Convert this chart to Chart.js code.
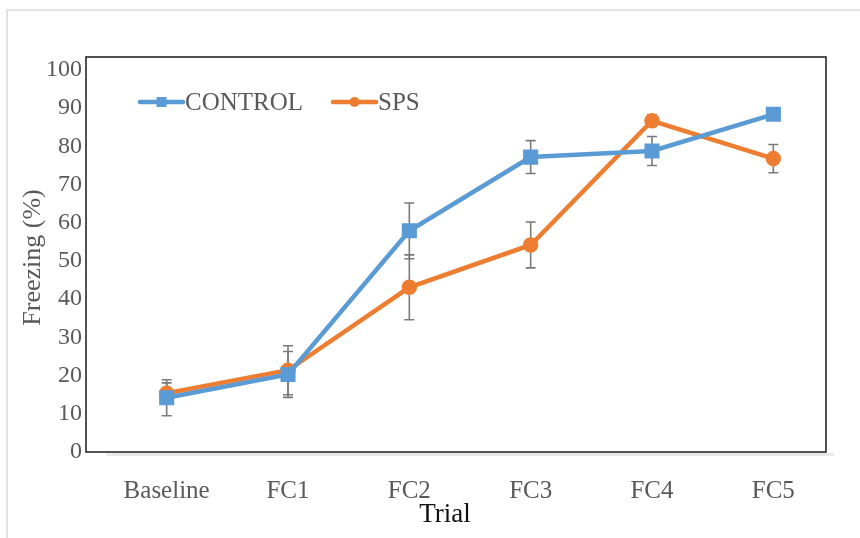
<!DOCTYPE html>
<html>
<head>
<meta charset="utf-8">
<script src="https://cdn.jsdelivr.net/npm/chart.js@4"></script>
<style>
  html, body { margin: 0; padding: 0; background: #ffffff; }
  #wrap { position: relative; width: 860px; height: 538px; overflow: hidden; }
  #frame { position: absolute; left: 6px; top: 9px; width: 900px; height: 600px;
           border-top: 2px solid #e2e2e2; border-left: 2px solid #e2e2e2; }
  canvas { position: absolute; left: 0; top: 0; }
</style>
</head>
<body>
<div id="wrap">
  <div id="frame"></div>
  <canvas id="chart" width="860" height="538"></canvas>
</div>
<script>
// Freezing (%) per trial, mean and standard error for each group
const trials = ['Baseline', 'FC1', 'FC2', 'FC3', 'FC4', 'FC5'];
const controlMean = [14.2, 20.3, 57.9, 77.2, 78.8, 88.4];
const controlErr  = [4.7, 6.0, 7.3, 4.3, 3.8, 0.8];
const spsMean     = [15.4, 21.4, 43.1, 54.2, 86.7, 76.8];
const spsErr      = [2.7, 6.4, 8.5, 6.0, 1.5, 3.7];
const yTicks      = [0, 10, 20, 30, 40, 50, 60, 70, 80, 90, 100];

const SERIF = "'Liberation Serif', 'Times New Roman', serif";
const BLUE = '#5B9BD5';
const ORANGE = '#ED7D31';
const GREY_TEXT = '#595959';

// Vertical error bars with caps, drawn under the lines
const errorBars = {
  id: 'errorBars',
  beforeDatasetsDraw(chart) {
    const ctx = chart.ctx;
    const y = chart.scales.y;
    ctx.save();
    ctx.strokeStyle = '#7a7a7a';
    ctx.lineWidth = 1.6;
    chart.data.datasets.forEach((ds, i) => {
      const meta = chart.getDatasetMeta(i);
      meta.data.forEach((pt, j) => {
        const e = ds.errors[j];
        if (!e) return;
        const yTop = y.getPixelForValue(ds.data[j] + e);
        const yBot = y.getPixelForValue(ds.data[j] - e);
        ctx.beginPath();
        ctx.moveTo(pt.x, yTop); ctx.lineTo(pt.x, yBot);
        ctx.moveTo(pt.x - 5, yTop); ctx.lineTo(pt.x + 5, yTop);
        ctx.moveTo(pt.x - 5, yBot); ctx.lineTo(pt.x + 5, yBot);
        ctx.stroke();
      });
    });
    ctx.restore();
  }
};

// Plot frame, axis titles and the in-plot legend
const decorations = {
  id: 'decorations',
  beforeDraw(chart) {
    const { ctx, chartArea: a } = chart;
    ctx.save();
    // soft baseline strip under the category band
    ctx.fillStyle = '#e9e9e9';
    ctx.fillRect(a.left, a.bottom + 1, a.right - a.left, 3);
    ctx.restore();
  },
  afterDraw(chart) {
    const { ctx, chartArea: a } = chart;
    ctx.save();
    // plot box
    ctx.strokeStyle = '#1a1a1a';
    ctx.lineWidth = 1.5;
    ctx.strokeRect(a.left - 20, a.top, (a.right - 8) - (a.left - 20), a.bottom - a.top);

    // axis titles
    ctx.fillStyle = GREY_TEXT;
    ctx.font = '26px ' + SERIF;
    ctx.textAlign = 'center';
    ctx.textBaseline = 'middle';
    ctx.save();
    ctx.translate(33, (a.top + a.bottom) / 2 + 3);
    ctx.rotate(-Math.PI / 2);
    ctx.fillText('Freezing (%)', 0, 0);
    ctx.restore();
    ctx.fillStyle = '#111111';
    ctx.font = '27px ' + SERIF;
    ctx.fillText('Trial', 445, 515);

    // legend
    ctx.font = '25px ' + SERIF;
    ctx.textAlign = 'left';
    let x = a.left + 34;
    const ly = 102;
    chart.data.datasets.forEach(ds => {
      ctx.strokeStyle = ds.borderColor;
      ctx.lineWidth = 4.5;
      ctx.lineCap = 'round';
      ctx.beginPath();
      ctx.moveTo(x, ly); ctx.lineTo(x + 43, ly);
      ctx.stroke();
      ctx.fillStyle = ds.borderColor;
      if (ds.pointStyle === 'rect') {
        ctx.fillRect(x + 21.5 - 5, ly - 5, 10, 10);
      } else {
        ctx.beginPath();
        ctx.arc(x + 21.5, ly, 5, 0, Math.PI * 2);
        ctx.fill();
      }
      ctx.fillStyle = GREY_TEXT;
      ctx.fillText(ds.label, x + 45, ly + 1);
      x += 45 + ctx.measureText(ds.label).width + 30;
    });
    ctx.restore();
  }
};

new Chart(document.getElementById('chart'), {
  type: 'line',
  data: {
    labels: trials,
    datasets: [
      {
        label: 'CONTROL',
        data: controlMean,
        errors: controlErr,
        borderColor: BLUE,
        backgroundColor: BLUE,
        borderWidth: 4.5,
        pointStyle: 'rect',
        pointRadius: 7.5,
        pointHoverRadius: 7.5,
        tension: 0
      },
      {
        label: 'SPS',
        data: spsMean,
        errors: spsErr,
        borderColor: ORANGE,
        backgroundColor: ORANGE,
        borderWidth: 4.5,
        pointStyle: 'circle',
        pointRadius: 5.5,
        pointHoverRadius: 5.5,
        tension: 0
      }
    ]
  },
  options: {
    responsive: false,
    animation: false,
    events: [],
    layout: { padding: { left: 0, top: 57, right: 26, bottom: 0 } },
    plugins: {
      legend: { display: false },
      tooltip: { enabled: false }
    },
    scales: {
      x: {
        offset: true,
        grid: { display: false, drawTicks: false },
        border: { display: false },
        ticks: {
          color: GREY_TEXT,
          font: { family: SERIF, size: 25 },
          padding: 24,
          maxRotation: 0
        },
        afterFit: s => { s.height = 86; }
      },
      y: {
        min: 0,
        max: 103.4,
        grid: { display: false, drawTicks: false },
        border: { display: false },
        afterBuildTicks: s => { s.ticks = yTicks.map(v => ({ value: v })); },
        ticks: {
          color: GREY_TEXT,
          font: { family: SERIF, size: 24 },
          padding: 24
        },
        afterFit: s => { s.width = 106; }
      }
    }
  },
  plugins: [errorBars, decorations]
});
</script>
</body>
</html>
